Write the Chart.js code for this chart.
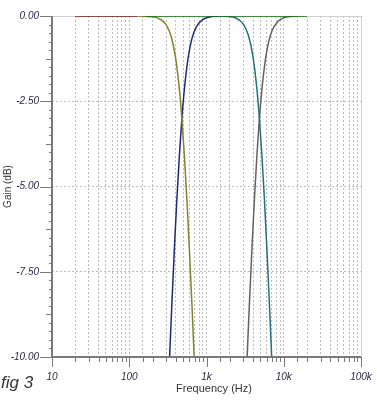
<!DOCTYPE html>
<html lang="en">
<head>
    <meta charset="UTF-8">
    <title>fig 3 - crossover response</title>
    <script src="https://cdn.jsdelivr.net/npm/chart.js"></script>
    <style>
        html, body { margin: 0; padding: 0; background: #fff; }
    </style>
</head>
<body>
    <canvas id="gainChart" width="377" height="400"></canvas>

    <script>
// Curves (frequency in Hz, gain in dB)
const redFreq = [20, 127];
const redGain = [0, 0];

const wooferFreq = [127, 160, 200, 250, 300, 350, 400, 450, 480, 520, 560, 600, 650, 700];
const wooferGain = [0, -0.01, -0.02, -0.09, -0.25, -0.61, -1.26, -2.25, -3.01, -4.18, -5.47, -6.83, -8.55, -10.26];

const midHighFreq = [330, 355, 385, 410, 445, 480, 520, 580, 650, 750, 900, 1100, 1400];
const midHighGain = [-10.2, -8.52, -6.77, -5.53, -4.11, -3.01, -2.09, -1.21, -0.65, -0.29, -0.10, -0.03, 0];

const midLowFreq = [1400, 1800, 2400, 3000, 3500, 4000, 4500, 4840, 5200, 5600, 6000, 6500, 7100];
const midLowGain = [0, -0.01, -0.06, -0.24, -0.58, -1.20, -2.16, -3.01, -4.05, -5.31, -6.66, -8.37, -10.4];

const tweeterFreq = [3300, 3600, 3900, 4200, 4500, 4840, 5300, 6000, 7000, 8500, 10000, 13000, 15000];
const tweeterGain = [-10.4, -8.39, -6.68, -5.24, -4.06, -3.01, -1.99, -1.06, -0.45, -0.15, -0.05, -0.01, 0];

const sumFreq = [160, 20000];
const sumGain = [0, 0];

// axis labels
const decadeValues = [10, 100, 1000, 10000, 100000];
const decadeLabels = ['10', '100', '1k', '10k', '100k'];

function toPoints(xs, ys) {
    return xs.map((x, i) => ({ x: x, y: ys[i] }));
}

function makeLine(xs, ys, color, order) {
    return {
        data: toPoints(xs, ys),
        borderColor: color,
        borderWidth: 1.5,
        pointRadius: 0,
        cubicInterpolationMode: 'monotone',
        fill: false,
        order: order
    };
}

const labelFont = { family: 'Liberation Sans, Arial, sans-serif', size: 10, style: 'italic' };

// axis lines, tick marks and loose text
const decorPlugin = {
    id: 'decor',
    beforeDatasetsDraw(chart) {
        const { ctx, chartArea } = chart;
        ctx.save();
        ctx.strokeStyle = '#cfcfcf';
        ctx.lineWidth = 1;
        ctx.beginPath();
        ctx.moveTo(chartArea.left, chartArea.top + 0.5);
        ctx.lineTo(chartArea.right + 0.5, chartArea.top + 0.5);
        ctx.lineTo(chartArea.right + 0.5, chartArea.bottom);
        ctx.stroke();
        ctx.restore();
    },
    afterDraw(chart) {
        const { ctx, chartArea } = chart;
        const xs = chart.scales.x;
        const ys = chart.scales.y;
        ctx.save();
        ctx.strokeStyle = '#7a7a7a';

        // axes
        ctx.lineWidth = 2;
        ctx.beginPath();
        ctx.moveTo(chartArea.left, chartArea.top);
        ctx.lineTo(chartArea.left, chartArea.bottom);
        ctx.lineTo(chartArea.right, chartArea.bottom);
        ctx.stroke();

        // x tick marks
        ctx.lineWidth = 1;
        xs.ticks.forEach(t => {
            const px = Math.round(xs.getPixelForValue(t.value)) + 0.5;
            const len = decadeValues.includes(t.value) ? 10 : 5;
            ctx.beginPath();
            ctx.moveTo(px, chartArea.bottom);
            ctx.lineTo(px, chartArea.bottom + len);
            ctx.stroke();
        });

        // y tick marks every 0.25 dB
        for (let k = 0; k <= 40; k++) {
            const v = -10 + k * 0.25;
            const py = Math.round(ys.getPixelForValue(v)) + 0.5;
            let len = 3;
            if (k % 10 === 0) len = 12;
            else if (k % 5 === 0) len = 6;
            ctx.beginPath();
            ctx.moveTo(chartArea.left - len, py);
            ctx.lineTo(chartArea.left, py);
            ctx.stroke();
        }

        // x axis title
        ctx.fillStyle = '#333';
        ctx.font = '11px "Liberation Sans", Arial, sans-serif';
        ctx.textAlign = 'center';
        ctx.textBaseline = 'middle';
        ctx.fillText('Frequency (Hz)', 214, 389);

        // figure caption
        ctx.font = 'italic 17px "Liberation Sans", Arial, sans-serif';
        ctx.textAlign = 'left';
        ctx.textBaseline = 'alphabetic';
        ctx.fillText('fig 3', 1, 388);
        ctx.restore();
    }
};

const ctx = document.getElementById('gainChart').getContext('2d');

new Chart(ctx, {
    type: 'line',
    data: {
        datasets: [
            makeLine(sumFreq, sumGain, '#137013', 0),
            makeLine(redFreq, redGain, '#7a1a14', 1),
            makeLine(wooferFreq, wooferGain, '#86812e', 2),
            makeLine(midHighFreq, midHighGain, '#1e2a78', 3),
            makeLine(midLowFreq, midLowGain, '#22727c', 4),
            makeLine(tweeterFreq, tweeterGain, '#626262', 5)
        ]
    },
    options: {
        responsive: false,
        animation: false,
        layout: { padding: { top: 16, right: 16, left: 0, bottom: 0 } },
        plugins: {
            legend: { display: false },
            tooltip: { enabled: false }
        },
        scales: {
            x: {
                type: 'logarithmic',
                min: 10,
                max: 100000,
                afterFit(scale) {
                    scale.height = 43;
                    scale.paddingLeft = 0;
                    scale.paddingRight = 0;
                },
                grid: {
                    drawTicks: false,
                    color: c => (c.tick && c.tick.value === 10) ? 'rgba(0,0,0,0)' : '#bdbdbd',
                    lineWidth: 1
                },
                border: { display: false, dash: [2, 2] },
                ticks: {
                    autoSkip: false,
                    maxRotation: 0,
                    padding: 14,
                    font: labelFont,
                    color: '#2a2a44',
                    callback: function (value) {
                        const i = decadeValues.indexOf(value);
                        return i >= 0 ? decadeLabels[i] : '';
                    }
                }
            },
            y: {
                min: -10,
                max: 0,
                afterFit(scale) {
                    scale.width = 52;
                    scale.paddingTop = 0;
                    scale.paddingBottom = 0;
                },
                grid: {
                    drawTicks: false,
                    color: c => (c.tick && (c.tick.value === 0 || c.tick.value === -10)) ? 'rgba(0,0,0,0)' : '#bdbdbd',
                    lineWidth: 1
                },
                border: { display: false, dash: [2, 2] },
                ticks: {
                    stepSize: 2.5,
                    padding: 13,
                    font: labelFont,
                    color: '#2a2a44',
                    callback: v => v.toFixed(2)
                },
                title: {
                    display: true,
                    text: 'Gain (dB)',
                    color: '#333',
                    font: { family: 'Liberation Sans, Arial, sans-serif', size: 10 },
                    padding: { top: 2, bottom: 0 }
                }
            }
        }
    },
    plugins: [decorPlugin]
});
    </script>
</body>
</html>
